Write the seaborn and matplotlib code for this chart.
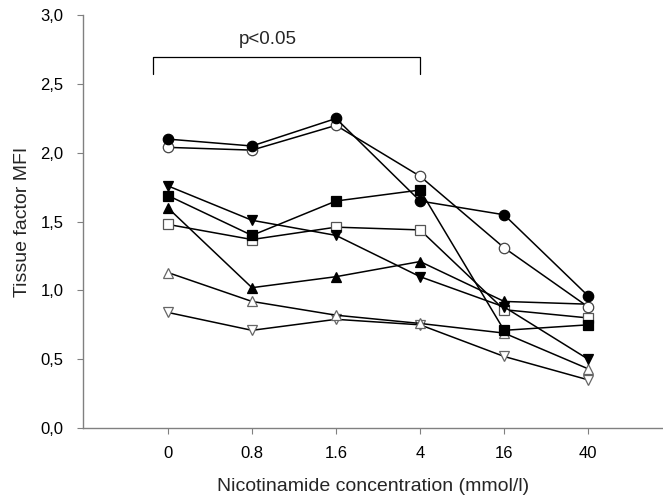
import matplotlib
matplotlib.use("Agg")
import matplotlib.pyplot as plt
import seaborn as sns
import numpy as np

# nicotinamide concentrations (mmol/l), plotted as evenly spaced categories
concentrations = ["0", "0.8", "1.6", "4", "16", "40"]

# tissue factor MFI, one donor per series
filled_circle = [2.10, 2.05, 2.25, 1.65, 1.55, 0.96]
open_circle = [2.04, 2.02, 2.20, 1.83, 1.31, 0.88]
filled_square = [1.69, 1.40, 1.65, 1.73, 0.71, 0.75]
open_square = [1.48, 1.37, 1.46, 1.44, 0.86, 0.80]
filled_tri_up = [1.60, 1.02, 1.10, 1.21, 0.92, 0.90]
open_tri_up = [1.13, 0.92, 0.82, 0.76, 0.69, 0.43]
filled_tri_down = [1.76, 1.51, 1.40, 1.10, 0.88, 0.50]
open_tri_down = [0.84, 0.71, 0.79, 0.75, 0.52, 0.35]

yticks = [0.0, 0.5, 1.0, 1.5, 2.0, 2.5, 3.0]
ytick_labels = ["0,0", "0,5", "1,0", "1,5", "2,0", "2,5", "3,0"]

sns.set_style("white")
plt.rcParams["font.family"] = ["Liberation Sans", "DejaVu Sans"]

fig = plt.figure(figsize=(6.63, 4.99), dpi=100)
ax = fig.add_axes([83 / 663, 1 - 428 / 499, 1 - 83 / 663, (428 - 15.3) / 499])

pos = np.arange(len(concentrations))
series = [
    (open_tri_down, "v", "white", "#666666", 7.5),
    (open_tri_up, "^", "white", "#666666", 7.5),
    (open_square, "s", "white", "#555555", 6.8),
    (filled_tri_up, "^", "black", "black", 7.5),
    (filled_tri_down, "v", "black", "black", 7.5),
    (filled_square, "s", "black", "black", 6.8),
    (open_circle, "o", "white", "#444444", 7.5),
    (filled_circle, "o", "black", "black", 7.5),
]
for vals, mk, fc, ec, ms in series:
    sns.lineplot(x=pos, y=vals, ax=ax, color="black", linewidth=1.1,
                 marker=mk, markersize=ms, markerfacecolor=fc,
                 markeredgecolor=ec, markeredgewidth=0.9)

ax.set_xlim(-1.01, 5.89)
ax.set_ylim(0, 3.0)
ax.set_xticks(pos)
ax.set_xticklabels(concentrations)
ax.set_yticks(yticks)
ax.set_yticklabels(ytick_labels)

for side in ["top", "right"]:
    ax.spines[side].set_visible(False)
for side in ["left", "bottom"]:
    ax.spines[side].set_color("#808080")
    ax.spines[side].set_linewidth(1.0)

ax.tick_params(axis="both", which="major", direction="out", length=4,
               width=0.8, color="#808080", labelsize=12, labelcolor="black",
               bottom=True, left=True)
ax.tick_params(axis="y", pad=10)
ax.tick_params(axis="x", pad=9)

ax.set_xlabel("Nicotinamide concentration (mmol/l)", fontsize=14, labelpad=12)
ax.set_ylabel("Tissue factor MFI", fontsize=14, labelpad=7)

# significance bracket between 0 and 4 mmol/l
ax.plot([-0.18, -0.18, 3.0, 3.0], [2.57, 2.70, 2.70, 2.57], color="black",
        linewidth=0.9, clip_on=False)
ax.text(1.19, 2.76, "p<0.05", ha="center", va="bottom", fontsize=13.5)

fig.savefig("out.png", dpi=100)
